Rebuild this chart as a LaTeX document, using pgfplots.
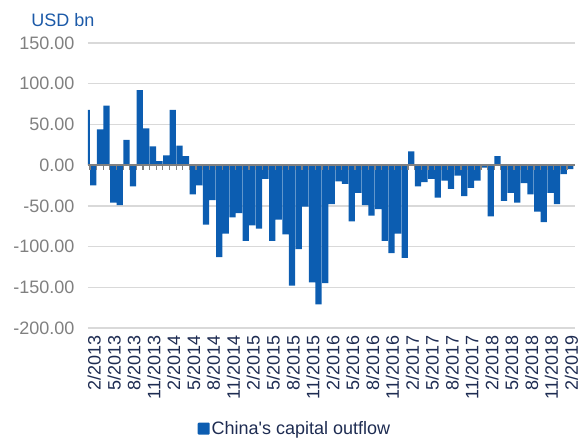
\documentclass[border=0pt]{standalone}
\usepackage{pgfplots}
\pgfplotsset{compat=1.18}
\usepackage{fontspec}
\setmainfont{Liberation Sans}
\definecolor{barblue}{RGB}{12,93,177}
\definecolor{navy}{RGB}{30,44,82}
\definecolor{ticgray}{RGB}{128,128,128}
\definecolor{titleblue}{RGB}{28,90,168}
\definecolor{gridgray}{RGB}{217,217,217}
\begin{document}
\begin{tikzpicture}
\useasboundingbox (-88pt,-111pt) rectangle (493pt,328pt);
\begin{axis}[
  at={(0pt,0pt)}, anchor=south west,
  scale only axis, width=487pt, height=285pt,
  xmin=0.2, xmax=73.7, ymin=-200, ymax=150,
  ybar, bar width=0.94,
  axis line style={draw=none},
  major tick length=0pt,
  ytick={-200,-150,-100,-50,0,50,100,150},
  yticklabels={-200.00,-150.00,-100.00,-50.00,0.00,50.00,100.00,150.00},
  ymajorgrids, grid style={color=gridgray, line width=1.3pt},
  xtick={1.15,4.15,7.15,10.15,13.15,16.15,19.15,22.15,25.15,28.15,31.15,34.15,37.15,40.15,43.15,46.15,49.15,52.15,55.15,58.15,61.15,64.15,67.15,70.15,73.15},
  xticklabels={2/2013,5/2013,8/2013,11/2013,2/2014,5/2014,8/2014,11/2014,2/2015,5/2015,8/2015,11/2015,2/2016,5/2016,8/2016,11/2016,2/2017,5/2017,8/2017,11/2017,2/2018,5/2018,8/2018,11/2018,2/2019},
  xticklabel style={rotate=90, anchor=east, text=navy, font=\fontsize{18}{18}\selectfont},
  xticklabel shift=4pt,
  yticklabel style={text=ticgray, font=\fontsize{18}{18}\selectfont},
  yticklabel shift=10pt,
  legend style={at={(0.425,-0.353)}, anchor=center, draw=none, fill=none,
    font=\fontsize{18}{18}\selectfont, text=navy, inner sep=0pt,
    /tikz/every even column/.style={column sep=0pt}},
  legend image code/.code={\fill[barblue, rounded corners=1pt] (0pt,-6pt) rectangle (12pt,6pt);},
]
\addplot[fill=barblue, draw=none] coordinates {
(0,68) (1,-25) (2,44) (3,73) (4,-46) (5,-49) (6,31) (7,-26) (8,92) (9,45)
(10,23) (11,5) (12,12) (13,68) (14,24) (15,11) (16,-36) (17,-25) (18,-73) (19,-43)
(20,-113) (21,-84) (22,-64) (23,-59) (24,-93) (25,-74) (26,-78) (27,-17) (28,-93) (29,-67)
(30,-85) (31,-148) (32,-103) (33,-51) (34,-144) (35,-171) (36,-145) (37,-48) (38,-20) (39,-23)
(40,-69) (41,-34) (42,-49) (43,-62) (44,-54) (45,-93) (46,-108) (47,-84) (48,-114) (49,17)
(50,-26) (51,-21) (52,-17) (53,-40) (54,-19) (55,-29) (56,-13) (57,-38) (58,-28) (59,-19)
(60,-3) (61,-63) (62,11) (63,-44) (64,-34) (65,-46) (66,-22) (67,-36) (68,-57) (69,-70)
(70,-34) (71,-48) (72,-11) (73,-5)
};
\addlegendentry{China\textquotesingle s capital outflow}
\draw[ticgray, line width=1.6pt] (axis cs:0.2,0) -- (axis cs:73.7,0);
\pgfplotsinvokeforeach{1,...,73}{
  \draw[ticgray, line width=1.2pt] ([xshift=-3.3pt]axis cs:#1,0) -- ([xshift=-3.3pt,yshift=-4.5pt]axis cs:#1,0);
}
\end{axis}
\node[text=titleblue, font=\fontsize{18}{18}\selectfont] at (-25pt,308pt) {USD bn};
\end{tikzpicture}
\end{document}
